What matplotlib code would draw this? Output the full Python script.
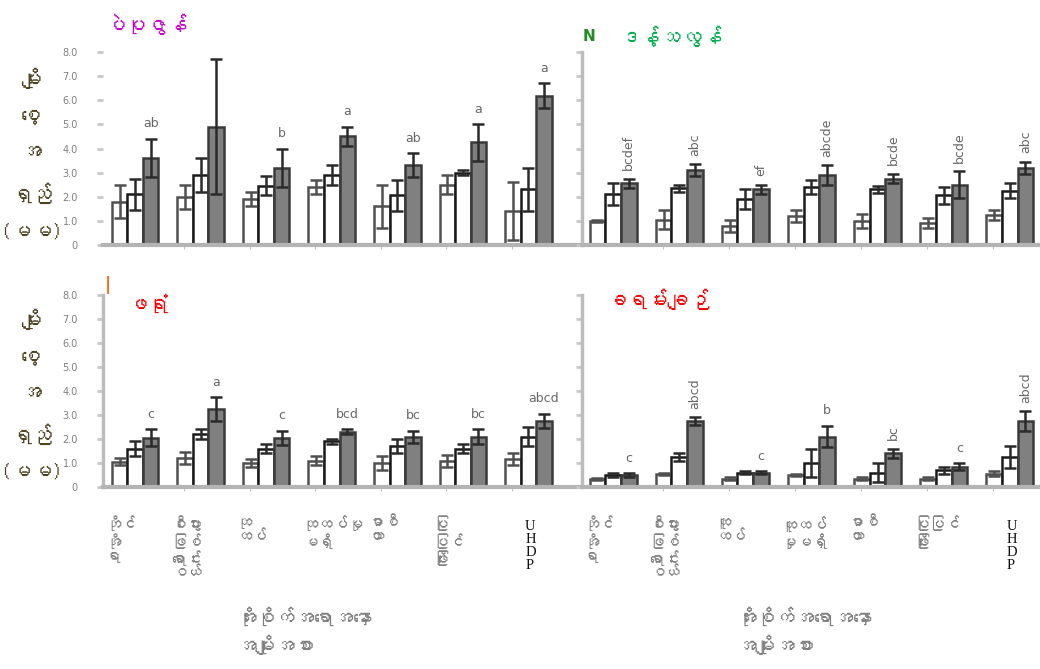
import numpy as np
import matplotlib
matplotlib.use("Agg")
import matplotlib.pyplot as plt
from matplotlib import font_manager
from matplotlib.transforms import blended_transform_factory


def _myanmar_font():
    # look for any installed face that covers the Myanmar block
    from fontTools.ttLib import TTFont
    for f in font_manager.fontManager.ttflist:
        try:
            cmap = TTFont(f.fname, fontNumber=0, lazy=True).getBestCmap()
        except Exception:
            continue
        if cmap and 0x1000 in cmap and 0x103A in cmap:
            return f.name
    return None


mm = _myanmar_font()
FAM = [mm, "DejaVu Sans"] if mm else ["DejaVu Sans"]
plt.rcParams["font.family"] = FAM

# ---- data -----------------------------------------------------------------
cats_left = ["ဘိုင်\nအို\nရာ", "စီးပွား\nဖြစ်\nရောင်း\nဝယ်", "ထု\nထပ်", "ထုထပ်မှု\nမရှိ",
             "မာစီ\nယာ", "ပြု\nပြင်\nဖြိုး", "U\nH\nD\nP"]
cats_right = ["ဘိုင်\nအို\nရာ", "စီးပွား\nဖြစ်\nရောင်း\nဝယ်", "ထူ\nထပ်", "ထူထပ်\nမှုမရှိ",
              "မာစီ\nယာ", "ပြုပြင်\nဖြိုး", "U\nH\nD\nP"]

titles = ["ပဲပုဇွန်", "ဒန့်သလွန်", "ဖရုံ", "ခရမ်းချဉ်"]
title_colors = ["#cc00cc", "#00b050", "#ff0000", "#ff0000"]

# panel order: pea (top-left), drumstick (top-right), pumpkin (bottom-left), tomato (bottom-right)
bar1 = [[1.8, 2.0, 1.9, 2.4, 1.6, 2.5, 1.4],
        [1.0, 1.05, 0.8, 1.2, 1.0, 0.9, 1.25],
        [1.05, 1.2, 1.0, 1.1, 1.0, 1.1, 1.15],
        [0.33, 0.55, 0.35, 0.5, 0.35, 0.35, 0.55]]
err1 = [[0.7, 0.5, 0.3, 0.3, 0.9, 0.4, 1.2],
        [0.05, 0.4, 0.25, 0.25, 0.3, 0.2, 0.2],
        [0.15, 0.25, 0.15, 0.2, 0.3, 0.25, 0.25],
        [0.05, 0.05, 0.05, 0.05, 0.05, 0.05, 0.1]]
bar2 = [[2.1, 2.9, 2.45, 2.9, 2.05, 3.0, 2.3],
        [2.1, 2.35, 1.9, 2.4, 2.3, 2.05, 2.25],
        [1.6, 2.2, 1.6, 1.9, 1.7, 1.6, 2.1],
        [0.5, 1.25, 0.6, 1.0, 0.6, 0.7, 1.25]]
err2 = [[0.65, 0.7, 0.4, 0.4, 0.65, 0.1, 0.9],
        [0.45, 0.15, 0.4, 0.3, 0.15, 0.35, 0.3],
        [0.3, 0.2, 0.2, 0.1, 0.3, 0.2, 0.4],
        [0.07, 0.15, 0.05, 0.6, 0.4, 0.15, 0.45]]
bar3 = [[3.6, 4.9, 3.2, 4.5, 3.3, 4.25, 6.2],
        [2.55, 3.1, 2.3, 2.9, 2.75, 2.5, 3.2],
        [2.05, 3.25, 2.05, 2.3, 2.1, 2.1, 2.75],
        [0.5, 2.75, 0.6, 2.1, 1.4, 0.85, 2.75]]
err3 = [[0.8, 2.8, 0.8, 0.4, 0.5, 0.75, 0.5],
        [0.2, 0.25, 0.2, 0.4, 0.2, 0.55, 0.25],
        [0.35, 0.5, 0.3, 0.1, 0.25, 0.3, 0.3],
        [0.07, 0.15, 0.05, 0.45, 0.2, 0.15, 0.4]]

letters = [["ab", "", "b", "a", "ab", "a", "a"],
           ["bcdef", "abc", "ef", "abcde", "bcde", "bcde", "abc"],
           ["c", "a", "c", "bcd", "bc", "bc", "abcd"],
           ["c", "abcd", "c", "b", "bc", "c", "abcd"]]
rotate_letters = [False, True, False, True]

yticks = [0, 1, 2, 3, 4, 5, 6, 7, 8]
ytick_labels = ["0", "1.0", "2.0", "3.0", "4.0", "5.0", "6.0", "7.0", "8.0"]

ylabel = "မျိုး\nစေ့\nအ\nရှည်\n(မမ)"
xlabel = "အိုးစိုက်အရောအနှော\nအမျိုးအစား"

# ---- figure ---------------------------------------------------------------
fig = plt.figure(figsize=(10.4, 6.69), dpi=100)
rects = [[0.099, 0.634, 0.457, 0.288],
         [0.5596, 0.634, 0.440, 0.288],
         [0.099, 0.272, 0.457, 0.287],
         [0.5596, 0.272, 0.440, 0.287]]
xlims = [(-0.49, 6.76), (-0.47, 6.45), (-0.49, 6.76), (-0.47, 6.45)]

w = 0.237
x = np.arange(7)
grey_txt = "#7f7f7f"

for k in range(4):
    ax = fig.add_axes(rects[k])
    ax.bar(x - w, bar1[k], w, color="white", edgecolor="#505050", linewidth=1.8, zorder=2)
    ax.bar(x, bar2[k], w, color="white", edgecolor="#1a1a1a", linewidth=1.8, zorder=2)
    ax.bar(x + w, bar3[k], w, color="#808080", edgecolor="#3a3a3a", linewidth=1.8, zorder=2)
    for off, vals, errs, col in [(-w, bar1[k], err1[k], "#505050"),
                                 (0, bar2[k], err2[k], "#2a2a2a"),
                                 (w, bar3[k], err3[k], "#2a2a2a")]:
        ax.errorbar(x + off, vals, yerr=errs, fmt="none", ecolor=col,
                    elinewidth=1.8, capsize=4, capthick=1.8, zorder=3)

    for i in range(7):
        lab = letters[k][i]
        if not lab:
            continue
        top = bar3[k][i] + err3[k][i] + 0.35
        if rotate_letters[k] and len(lab) > 1:
            ax.text(x[i] + w, top, lab, rotation=90, ha="center", va="bottom",
                    fontsize=9, color="#666666", family="DejaVu Sans")
        else:
            ax.text(x[i] + w, top, lab, ha="center", va="bottom",
                    fontsize=9, color="#666666", family="DejaVu Sans")

    ax.set_xlim(*xlims[k])
    ax.set_ylim(0, 8)
    ax.set_yticks(yticks)
    ax.set_xticks(x[:-1] + 0.5 + 0.25)
    ax.set_xticklabels([])
    ax.tick_params(axis="x", length=3, color="#c0c0c0")
    ax.tick_params(axis="y", length=4, width=2, color="#c8c8c8", pad=14)
    if k % 2 == 0:
        ax.set_yticklabels(ytick_labels, fontsize=7, color=grey_txt, family="DejaVu Sans")
    else:
        ax.set_yticklabels([])
    for s in ["top", "right"]:
        ax.spines[s].set_visible(False)
    ax.spines["bottom"].set_color("#b4b4b4")
    ax.spines["bottom"].set_linewidth(3)
    ax.spines["left"].set_color("#bcbcbc")
    ax.spines["left"].set_linewidth(2.5)
    if k == 0:
        ax.spines["left"].set_visible(False)

    # category labels below bottom panels
    if k >= 2:
        cats = cats_left if k == 2 else cats_right
        tr = blended_transform_factory(ax.transData, ax.transAxes)
        for i, c in enumerate(cats):
            if c.startswith("U\n"):
                ax.text(x[i] - 0.05, -0.17, c, transform=tr, ha="left", va="top",
                        fontsize=10.5, color="#111111", family="Liberation Serif",
                        linespacing=1.0)
            else:
                ax.text(x[i] - 0.45, -0.15, c, transform=tr, ha="left", va="top",
                        fontsize=11, color=grey_txt, linespacing=1.1)

# titles
fig.text(0.101, 0.963, titles[0], color=title_colors[0], fontsize=15, fontweight="bold",
         ha="left", va="center")
fig.text(0.595, 0.945, titles[1], color=title_colors[1], fontsize=15, fontweight="bold",
         ha="left", va="center")
fig.text(0.122, 0.545, titles[2], color=title_colors[2], fontsize=15, fontweight="bold",
         ha="left", va="center")
fig.text(0.583, 0.553, titles[3], color=title_colors[3], fontsize=15, fontweight="bold",
         ha="left", va="center")
fig.text(0.566, 0.945, "N", color="#228b22", fontsize=11, fontweight="bold",
         ha="center", va="center", family="DejaVu Sans")
fig.text(0.104, 0.574, "|", color="#ff6a1a", fontsize=12, fontweight="bold",
         ha="center", va="center", family="DejaVu Sans")

# y labels
for yc in [0.77, 0.41]:
    fig.text(0.03, yc, ylabel, color="#4d4420", fontsize=15, fontweight="bold",
             ha="center", va="center", linespacing=2.2)

# x labels
fig.text(0.228, 0.057, xlabel, color=grey_txt, fontsize=14, ha="left", va="center",
         linespacing=1.5)
fig.text(0.708, 0.057, xlabel, color=grey_txt, fontsize=14, ha="left", va="center",
         linespacing=1.5)

fig.savefig("out.png", dpi=100)
